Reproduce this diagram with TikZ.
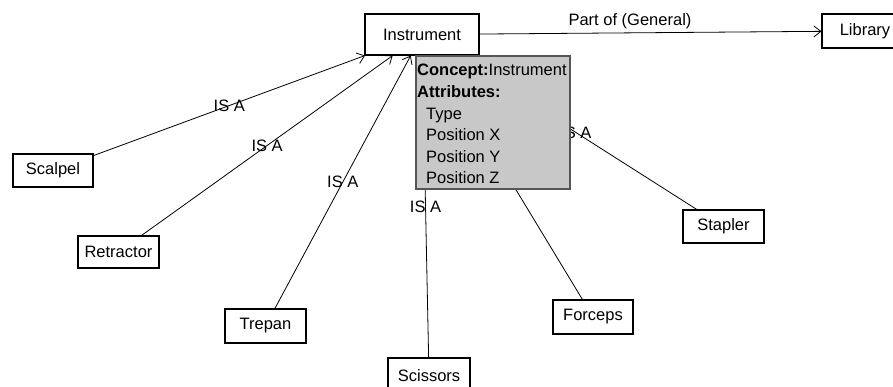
\documentclass[tikz,border=0pt]{standalone}
\usepackage{fontspec}
\setmainfont{Liberation Sans}
\usetikzlibrary{arrows.meta}
\definecolor{tipgray}{RGB}{200,200,200}
\definecolor{tipborder}{RGB}{85,85,85}
\begin{document}
\begin{tikzpicture}[x=1pt,y=-1pt,
  concept/.style={draw=black, line width=1.1pt, fill=white, inner sep=0pt,
    font=\fontsize{16.5}{18}\selectfont},
  isa/.style={line width=0.8pt, -{Straight Barb[length=7pt,width=11pt,line width=0.8pt]}},
  lbl/.style={font=\fontsize{16.5}{18}\selectfont, inner sep=0pt},
  tipbox/.style={draw=tipborder, line width=1.2pt, fill=tipgray,
    minimum width=154pt, minimum height=133pt, inner sep=0pt},
  tiptext/.style={anchor=base west, inner sep=0pt, font=\fontsize{16.5}{18}\selectfont}]
\useasboundingbox[fill=white] (0,0) rectangle (893,387);

% concepts
\node[concept, minimum width=114pt, minimum height=41pt] (instrument) at (422,34.5) {Instrument};
\node[concept, minimum width=86pt, minimum height=34pt] (library) at (865,31) {Library};
\node[concept, minimum width=80pt, minimum height=33pt] (scalpel) at (53,170.5) {Scalpel};
\node[concept, minimum width=81pt, minimum height=32pt] (retractor) at (118.5,252) {Retractor};
\node[concept, minimum width=81pt, minimum height=34pt] (trepan) at (265.5,326) {Trepan};
\node[concept, minimum width=82pt, minimum height=36pt] (scissors) at (429,376) {Scissors};
\node[concept, minimum width=80pt, minimum height=34pt] (forceps) at (593,317) {Forceps};
\node[concept, minimum width=81pt, minimum height=33pt] (stapler) at (723.5,226.5) {Stapler};

% relations
\draw[isa] (instrument) -- node[lbl, pos=0.44, above=4pt] {Part of (General)} (library);
\draw[isa] (scalpel) -- node[lbl] {IS A} (instrument);
\draw[isa] (retractor) -- node[lbl] {IS A} (instrument);
\draw[isa] (trepan) -- node[lbl] {IS A} (instrument);
\draw[isa] (scissors) -- node[lbl] {IS A} (instrument);
\draw[isa] (forceps) -- (instrument);
\draw[isa] (stapler) -- node[lbl] {IS A} (instrument);

% tooltip box
\node[tipbox] (tip) at (493,122.5) {};
\node[tiptext] (t1) at (417,76) {\textbf{Concept:}Instrument};
\node[tiptext] (t2) at (417,97.6) {\textbf{Attributes:}};
\node[tiptext] (t3) at (426,119.2) {Type};
\node[tiptext] (t4) at (426,140.8) {Position X};
\node[tiptext] (t5) at (426,162.4) {Position Y};
\node[tiptext] (t6) at (426,184) {Position Z};
\end{tikzpicture}
\end{document}
